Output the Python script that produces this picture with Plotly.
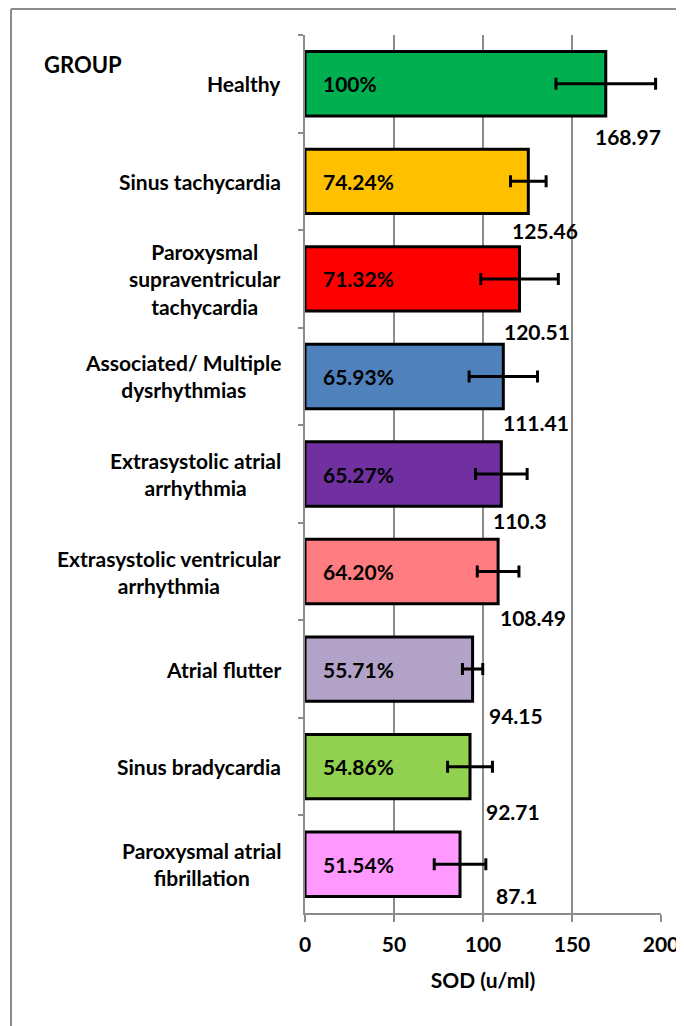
import plotly.graph_objects as go

categories = [
    "Healthy",
    "Sinus tachycardia",
    "Paroxysmal<br>supraventricular<br>tachycardia",
    "Associated/ Multiple<br>dysrhythmias",
    "Extrasystolic atrial<br>arrhythmia",
    "Extrasystolic ventricular<br>arrhythmia",
    "Atrial flutter",
    "Sinus bradycardia",
    "Paroxysmal atrial<br>fibrillation",
]
sod_values = [168.97, 125.46, 120.51, 111.41, 110.3, 108.49, 94.15, 92.71, 87.1]
value_labels = ["168.97", "125.46", "120.51", "111.41", "110.3", "108.49", "94.15", "92.71", "87.1"]
pct_labels = ["100%", "74.24%", "71.32%", "65.93%", "65.27%", "64.20%", "55.71%", "54.86%", "51.54%"]
sod_errors = [28.0, 10.0, 21.8, 19.2, 14.5, 11.7, 5.7, 12.6, 14.5]
x_ticks = [0, 50, 100, 150, 200]

bar_colors = ["#00B050", "#FFC000", "#FF0000", "#4F81BD", "#7030A0",
              "#FF7C80", "#B2A2C7", "#92D050", "#FF99FF"]
# pixel offsets for the value labels (style only)
label_dx = [22, 17, 17, 33, 19, 35, 43, 43, 57]
label_dy = [53, 49, 53, 46, 46, 46, 46, 45, 31]

# the page body adds an 8px margin, so the figure is 8px smaller
W, H = 676, 1018
L, R, T, B = 297, 23, 27, 113
PW, PH = W - L - R, H - T - B
FONT = "Lato, 'Open Sans', sans-serif"
FS = 21

fig = go.Figure()
fig.add_trace(go.Bar(
    y=categories, x=sod_values, orientation="h",
    marker=dict(color=bar_colors, line=dict(color="black", width=3)),
    width=0.66,
    error_x=dict(type="data", array=sod_errors, visible=True,
                 color="black", thickness=3, width=6),
    hoverinfo="x+y",
))

ann = []
for i, c in enumerate(categories):
    ann.append(dict(x=0, xref="paper", y=c, yref="y", text="<b>%s</b>" % c,
                    xanchor="right", yanchor="middle", align="center",
                    xshift=-22, showarrow=False,
                    font=dict(family=FONT, size=FS, color="black")))
    ann.append(dict(x=0, xref="x", y=c, yref="y", text="<b>%s</b>" % pct_labels[i],
                    xanchor="left", yanchor="middle", xshift=16, showarrow=False,
                    font=dict(family=FONT, size=FS, color="black")))
    ann.append(dict(x=sod_values[i], xref="x", y=c, yref="y",
                    text="<b>%s</b>" % value_labels[i],
                    xanchor="center", yanchor="middle",
                    xshift=label_dx[i], yshift=-label_dy[i], showarrow=False,
                    font=dict(family=FONT, size=FS, color="black")))

ann.append(dict(x=(34 - L) / PW, xref="paper", y=(H - B - 57) / PH, yref="paper",
                text="<b>GROUP</b>", xanchor="left", yanchor="middle",
                showarrow=False, font=dict(family=FONT, size=22, color="black")))

fx, fy = 3, 1
shapes = [
    dict(type="line", xref="paper", yref="paper",
         x0=(fx - L) / PW, x1=(fx - L) / PW, y0=(H - B - fy) / PH, y1=-1,
         line=dict(color="#8C8C8C", width=2)),
    dict(type="line", xref="paper", yref="paper",
         x0=(fx - L) / PW, x1=2, y0=(H - B - fy) / PH, y1=(H - B - fy) / PH,
         line=dict(color="#8C8C8C", width=2)),
]

fig.update_layout(
    width=W, height=H,
    margin=dict(l=L, r=R, t=T, b=B, autoexpand=False),
    paper_bgcolor="white", plot_bgcolor="white",
    showlegend=False,
    annotations=ann, shapes=shapes,
    xaxis=dict(range=[0, 200], tickvals=x_ticks,
               ticktext=["<b>%d</b>" % v for v in x_ticks],
               showgrid=True, gridcolor="#8C8C8C", gridwidth=1.5,
               showline=True, linecolor="#8C8C8C", linewidth=1.5,
               ticks="outside", ticklen=7, tickcolor="#8C8C8C", tickwidth=1.5,
               ticklabelstandoff=5,
               zeroline=False, automargin=False,
               tickfont=dict(family=FONT, size=FS, color="black"),
               title=dict(text="<b>SOD (u/ml)</b>", standoff=18,
                          font=dict(family=FONT, size=FS, color="black"))),
    yaxis=dict(categoryorder="array", categoryarray=categories,
               range=[len(categories) - 0.5, -0.5], autorange=False,
               showticklabels=False, automargin=False,
               showgrid=False, showline=True, linecolor="#8C8C8C", linewidth=1.5,
               ticks="outside", ticklen=5, tickcolor="#8C8C8C", tickwidth=1.5,
               tickson="boundaries", zeroline=False),
)

fig.write_html("out.html")
